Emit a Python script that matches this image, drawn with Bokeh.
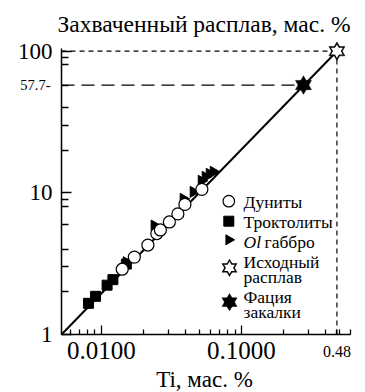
import math
from bokeh.plotting import figure
from bokeh.models import Range1d, LinearScale, FixedTicker, Label, LogAxis
from bokeh.embed import file_html
from bokeh.resources import INLINE

# ---------------- data ----------------
dunite_ti = [0.0141, 0.0172, 0.0215, 0.0249, 0.0264, 0.0306, 0.0352, 0.0395, 0.0522]
dunite_melt = [2.89, 3.52, 4.28, 5.16, 5.47, 6.23, 7.10, 8.29, 10.59]

troct_ti = [0.0081, 0.0091, 0.0110, 0.0121, 0.0151]
troct_melt = [1.66, 1.86, 2.23, 2.44, 3.14]

gabbro_ti = [0.0151, 0.0239, 0.0385, 0.0454, 0.0518, 0.0553, 0.0591, 0.0631]
gabbro_melt = [3.24, 5.88, 9.07, 10.16, 12.17, 12.98, 13.64, 14.09]

initial_ti = [0.48]
initial_melt = [100.0]

quench_ti = [0.277]
quench_melt = [57.7]

trend_ti = [0.0052, 0.48]
trend_melt = [1.0, 100.0]

x_ticks = [0.01, 0.1]
x_tick_labels = ["0.0100", "0.1000"]
x_minor = [0.006, 0.007, 0.008, 0.009, 0.02, 0.03, 0.04, 0.05, 0.06, 0.07,
           0.08, 0.09, 0.2, 0.3, 0.4, 0.48, 0.5, 0.6]
y_ticks = [1, 10, 100]
y_tick_labels = ["1", "10", "100"]
y_minor = [2, 3, 4, 6, 8, 9, 20, 30, 40, 57.7, 80, 90]

legend_labels = ["Дуниты", "Троктолиты", "габбро", "Исходный", "расплав", "Фация", "закалки"]

title_text = "Захваченный расплав, мас. %"
xlabel_text = "Ti, мас. %"

# axis extents (data units)
X_AXIS = (0.0052, 0.6)
Y_AXIS = (1.0, 104.5)

FONT = "'Liberation Serif'"

# ---------------- layout (canvas pixels, origin top-left) ----------------
W, H = 365, 392
AX_L, AX_R = 61, 350      # pixel columns of x-axis ends
AX_B, Y100 = 334, 50.7    # pixel rows of y=1 and y=100

dec_x = (AX_R - AX_L) / math.log10(X_AXIS[1] / X_AXIS[0])
dec_y = (AX_B - Y100) / 2.0
x_lo = 10 ** (math.log10(X_AXIS[0]) - AX_L / dec_x)
x_hi = 10 ** (math.log10(X_AXIS[1]) + (W - AX_R) / dec_x)
y_lo = 10 ** (-(H - AX_B) / dec_y)
y_hi = 10 ** (AX_B / dec_y)

p = figure(width=W, height=H, x_axis_type="log", y_axis_type="log",
           x_range=Range1d(x_lo, x_hi), y_range=Range1d(y_lo, y_hi),
           x_axis_location=None, y_axis_location=None,
           output_backend="svg", toolbar_location=None,
           min_border_left=0, min_border_right=0, min_border_top=0,
           min_border_bottom=0)
p.outline_line_color = None
p.grid.visible = False

# pixel-based ranges for the legend block (y measured from the bottom)
p.extra_x_ranges = {"px": Range1d(0, W)}
p.extra_y_ranges = {"py": Range1d(0, H)}
p.extra_x_scales = {"px": LinearScale()}
p.extra_y_scales = {"py": LinearScale()}

def style_axis(ax):
    ax.axis_line_width = 1.5
    ax.axis_line_color = "black"
    ax.major_tick_line_width = 1.3
    ax.minor_tick_line_width = 1.3
    ax.major_tick_line_color = "black"
    ax.minor_tick_line_color = "black"
    ax.major_tick_out = 0
    ax.minor_tick_out = 0
    ax.major_label_text_color = "black"
    ax.major_label_text_font = FONT

xa = LogAxis(fixed_location=Y_AXIS[0], bounds=X_AXIS,
             ticker=FixedTicker(ticks=x_ticks, minor_ticks=x_minor),
             major_label_overrides={t: l for t, l in zip(x_ticks, x_tick_labels)})
style_axis(xa)
xa.major_tick_in = 9
xa.minor_tick_in = 5
xa.major_label_text_font_size = "25px"
xa.major_label_standoff = 7
p.add_layout(xa, "below")

ya = LogAxis(fixed_location=X_AXIS[0], bounds=Y_AXIS,
             ticker=FixedTicker(ticks=y_ticks, minor_ticks=y_minor),
             major_label_overrides={t: l for t, l in zip(y_ticks, y_tick_labels)})
style_axis(ya)
ya.major_tick_in = 10
ya.minor_tick_in = 7
ya.major_label_text_font_size = "23px"
ya.major_label_standoff = 9
p.add_layout(ya, "left")

# reference dashed lines
p.line([X_AXIS[0], initial_ti[0]], [initial_melt[0], initial_melt[0]],
       line_color="black", line_width=1.2, line_dash="5 4")
p.line([initial_ti[0], initial_ti[0]], [Y_AXIS[0], initial_melt[0]],
       line_color="black", line_width=1.2, line_dash="5 4")
p.line([X_AXIS[0], quench_ti[0]], [quench_melt[0], quench_melt[0]],
       line_color="black", line_width=1.2, line_dash="13 7")

# trend line
p.line(trend_ti, trend_melt, line_color="black", line_width=2)

# data markers
p.scatter(troct_ti, troct_melt, marker="square", size=10,
          fill_color="black", line_color="black")
p.scatter(gabbro_ti, gabbro_melt, marker="triangle", size=11, angle=-math.pi / 2,
          fill_color="black", line_color="black")
p.scatter(dunite_ti, dunite_melt, marker="circle", size=12,
          fill_color="white", line_color="black", line_width=1.2)

def hexagram(x, y, size, filled, **kw):
    for m in ("triangle", "inverted_triangle"):
        p.scatter(x, y, marker=m, size=size, fill_color="black",
                  line_color="black", line_width=0.5, **kw)
    if not filled:
        for m in ("triangle", "inverted_triangle"):
            p.scatter(x, y, marker=m, size=size - 4.2, fill_color="white",
                      line_color=None, **kw)

hexagram(initial_ti, initial_melt, 16, False)
hexagram(quench_ti, quench_melt, 16, True)

# legend (pixel coordinates of the canvas, y up)
LX = 228.3
p.scatter([LX], [H - 200.7], marker="circle", size=11.5, fill_color="white",
          line_color="black", line_width=1.2, x_range_name="px", y_range_name="py")
p.scatter([LX], [H - 220.7], marker="square", size=10, fill_color="black",
          line_color="black", x_range_name="px", y_range_name="py")
p.scatter([LX], [H - 239.3], marker="triangle", size=10, angle=-math.pi / 2,
          fill_color="black", line_color="black", x_range_name="px", y_range_name="py")
hexagram([LX + 0.7], [H - 267.3], 15, False, x_range_name="px", y_range_name="py")
hexagram([LX + 0.7], [H - 301.7], 15, True, x_range_name="px", y_range_name="py")

TX = 243
LEG_FS = "17.5px"
legend_rows = [(TX, 201), (TX, 221), (TX + 21, 241), (TX, 261), (TX, 276), (TX, 296), (TX, 311)]
for txt, (lx, ly) in zip(legend_labels, legend_rows):
    p.add_layout(Label(x=lx, y=H - ly, x_units="screen", y_units="screen", text=txt,
                       text_font=FONT, text_font_size=LEG_FS, text_color="black",
                       text_baseline="alphabetic", text_align="left"))
p.add_layout(Label(x=TX, y=H - 241, x_units="screen", y_units="screen", text="Ol",
                   text_font=FONT, text_font_size=LEG_FS, text_font_style="italic",
                   text_color="black", text_baseline="alphabetic", text_align="left"))

# special tick labels
p.add_layout(Label(x=50, y=quench_melt[0], x_units="screen", y_units="data",
                   text="57.7-", text_font=FONT, text_font_size="14.5px",
                   text_color="black", text_align="right", text_baseline="middle"))
p.add_layout(Label(x=initial_ti[0], y=H - 351, x_units="data", y_units="screen",
                   text="0.48", text_font=FONT, text_font_size="16px",
                   text_color="black", text_align="center", text_baseline="alphabetic"))

# title and x-axis label
p.add_layout(Label(x=57, y=H - 23, x_units="screen", y_units="screen", text=title_text,
                   text_font=FONT, text_font_size="23.5px", text_color="black",
                   text_align="left", text_baseline="alphabetic"))
p.add_layout(Label(x=204, y=H - 379, x_units="screen", y_units="screen", text=xlabel_text,
                   text_font=FONT, text_font_size="23px", text_color="black",
                   text_align="center", text_baseline="alphabetic"))

open("out.html", "w").write(file_html(p, INLINE))
